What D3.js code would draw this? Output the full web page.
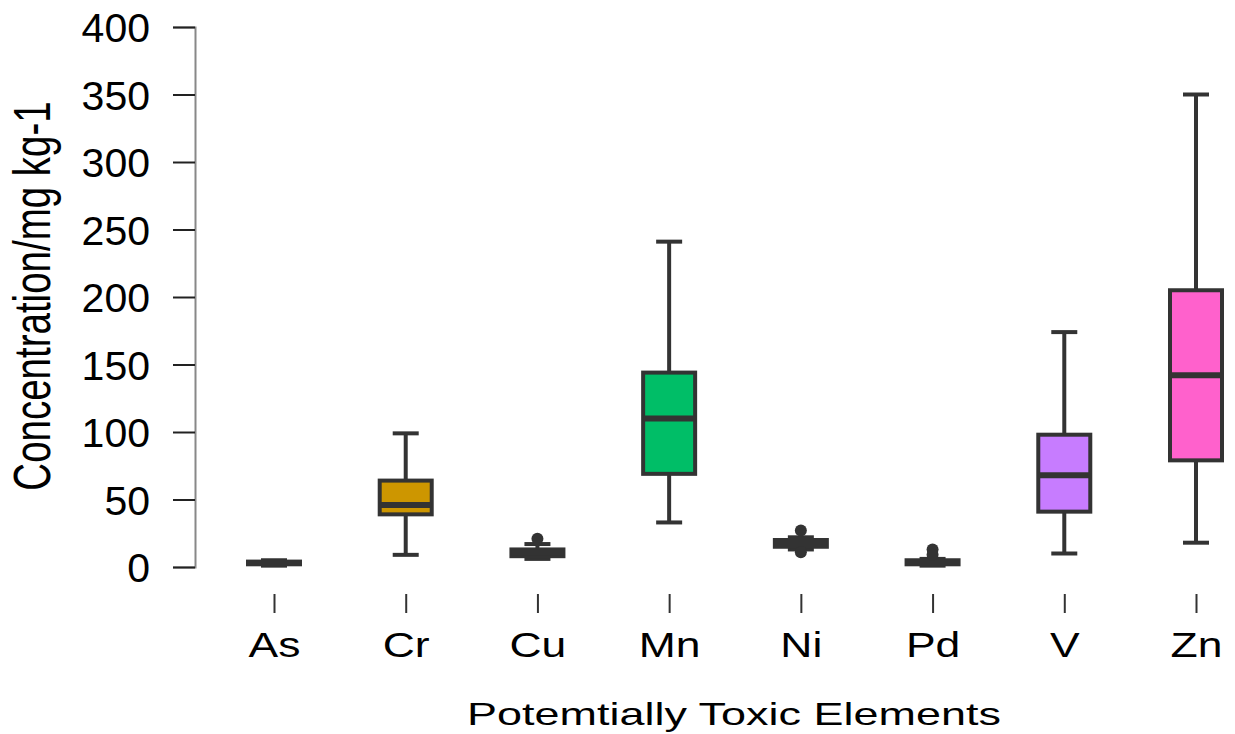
<!DOCTYPE html>
<html>
<head>
<meta charset="utf-8">
<script src="https://cdn.jsdelivr.net/npm/d3@7"></script>
<style>
  body { margin: 0; background: #fff; }
  text { font-family: "Liberation Sans", Arial, sans-serif; }
</style>
</head>
<body>
<div id="container"></div>
<script>
const width = 1235;
const height = 734;

// data
const elements = ["As", "Cr", "Cu", "Mn", "Ni", "Pd", "V", "Zn"];
const mins    = [1, 9, 6, 33, 13, 1, 10, 18];
const q1s     = [2, 39, 8, 69, 15, 2, 41, 79];
const medians = [3, 46, 11, 110, 17, 3, 68, 142];
const q3s     = [4, 64, 13, 144, 20, 5, 98, 205];
const maxs    = [5, 99, 17, 241, 22, 6, 174, 350];
const outliers = [[], [], [21], [], [27, 11], [13, 9], [], []];
const colors = ["#F8766D", "#CD9600", "#7CAE00", "#00BE67", "#00BFC4", "#00A9FF", "#C77CFF", "#FF61CC"];
const yTicks = [0, 50, 100, 150, 200, 250, 300, 350, 400];

const boxes = elements.map((e, i) => ({
  name: e, min: mins[i], q1: q1s[i], median: medians[i], q3: q3s[i], max: maxs[i],
  out: outliers[i], color: colors[i]
}));

const x = d3.scalePoint().domain(elements).range([274, 1196]);
const y = d3.scaleLinear().domain([0, 400]).range([567, 27]);

const svg = d3.select("div#container")
  .append("svg")
  .attr("width", width)
  .attr("height", height);

// y axis
const yAxis = svg.append("g")
  .attr("transform", "translate(195,0)")
  .call(d3.axisLeft(y).tickValues(yTicks).tickSize(22).tickPadding(23));
yAxis.select(".domain").attr("stroke", "#888").attr("stroke-width", 2);
yAxis.selectAll(".tick line").attr("stroke", "#222").attr("stroke-width", 2);
yAxis.selectAll(".tick text")
  .attr("fill", "#000")
  .style("font-size", "41px")
  .attr("dy", "0.36em");

// x axis (ticks only)
const xAxis = svg.append("g")
  .attr("transform", "translate(0,594)")
  .call(d3.axisBottom(x).tickSize(19).tickSizeOuter(0));
xAxis.select(".domain").remove();
xAxis.selectAll(".tick line").attr("stroke", "#333").attr("stroke-width", 2);
xAxis.selectAll(".tick text")
  .attr("fill", "#000")
  .attr("y", 63)
  .attr("dy", 0)
  .attr("transform", "scale(1.27,1)")
  .style("font-size", "35px");

// axis titles
svg.append("text")
  .attr("transform", "translate(50,296) rotate(-90) scale(1,1.34)")
  .attr("text-anchor", "middle")
  .style("font-size", "38.5px")
  .text("Concentration/mg kg-1");

svg.append("text")
  .attr("transform", "translate(734,725) scale(1.45,1)")
  .attr("text-anchor", "middle")
  .style("font-size", "31px")
  .text("Potemtially Toxic Elements");

// boxplots
const boxW = 52, capW = 26, stroke = "#333";
const g = svg.append("g")
  .selectAll("g")
  .data(boxes)
  .join("g")
  .attr("transform", d => `translate(${x(d.name)},0)`);

g.append("line")
  .attr("y1", d => y(d.max)).attr("y2", d => y(d.min))
  .attr("stroke", stroke).attr("stroke-width", 4);

g.append("line")
  .attr("x1", -capW / 2).attr("x2", capW / 2)
  .attr("y1", d => y(d.max)).attr("y2", d => y(d.max))
  .attr("stroke", stroke).attr("stroke-width", 4);

g.append("line")
  .attr("x1", -capW / 2).attr("x2", capW / 2)
  .attr("y1", d => y(d.min)).attr("y2", d => y(d.min))
  .attr("stroke", stroke).attr("stroke-width", 4);

g.append("rect")
  .attr("x", -boxW / 2)
  .attr("width", boxW)
  .attr("y", d => y(d.q3))
  .attr("height", d => y(d.q1) - y(d.q3))
  .attr("fill", d => d.color)
  .attr("stroke", stroke)
  .attr("stroke-width", 4);

g.append("line")
  .attr("x1", -boxW / 2).attr("x2", boxW / 2)
  .attr("y1", d => y(d.median)).attr("y2", d => y(d.median))
  .attr("stroke", stroke).attr("stroke-width", 6);

g.selectAll("circle")
  .data(d => d.out)
  .join("circle")
  .attr("cy", d => y(d))
  .attr("r", 6)
  .attr("fill", stroke);
</script>
</body>
</html>
